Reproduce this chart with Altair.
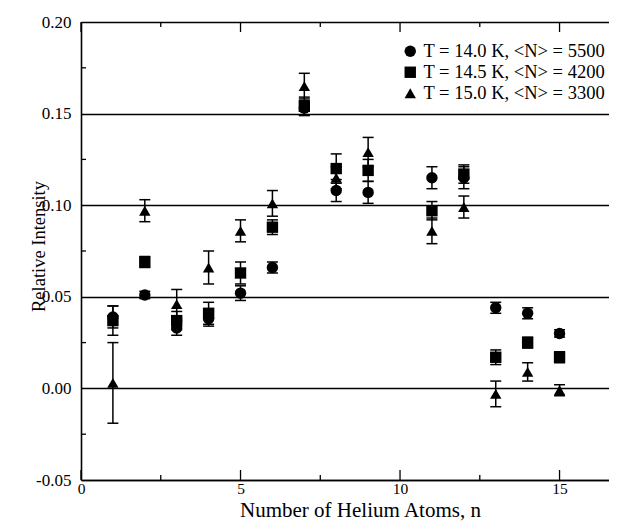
import altair as alt
import pandas as pd

# ---- data ----
n_atoms = [1, 2, 3, 4, 5, 6, 7, 8, 9, 11, 12, 13, 14, 15]
series_labels = ["T = 14.0 K, <N> = 5500", "T = 14.5 K, <N> = 4200", "T = 15.0 K, <N> = 3300"]
int_140 = [0.039, 0.051, 0.033, 0.038, 0.052, 0.066, 0.153, 0.108, 0.107, 0.115, 0.115, 0.044, 0.041, 0.030]
err_140 = [0.006, 0.002, 0.004, 0.004, 0.004, 0.003, 0.004, 0.006, 0.006, 0.006, 0.006, 0.003, 0.003, 0.002]
int_145 = [0.037, 0.069, 0.037, 0.041, 0.063, 0.088, 0.154, 0.120, 0.119, 0.097, 0.117, 0.017, 0.025, 0.017]
err_145 = [0.008, 0.003, 0.005, 0.006, 0.006, 0.004, 0.005, 0.008, 0.006, 0.005, 0.005, 0.004, 0.003, 0.003]
int_150 = [0.003, 0.097, 0.046, 0.066, 0.086, 0.101, 0.165, 0.115, 0.129, 0.086, 0.099, -0.003, 0.009, -0.001]
err_150 = [0.022, 0.006, 0.008, 0.009, 0.006, 0.007, 0.007, 0.006, 0.008, 0.007, 0.006, 0.007, 0.005, 0.003]

x_major_ticks = [0, 5, 10, 15]
x_minor_ticks = [2.5, 7.5, 12.5]
y_label_values = [-0.05, 0.0, 0.05, 0.10, 0.15, 0.20]
y_minor_ticks = [-0.025, 0.025, 0.075, 0.125, 0.175]

rows = []
for label, vals, errs in zip(series_labels, [int_140, int_145, int_150], [err_140, err_145, err_150]):
    for n, v, e in zip(n_atoms, vals, errs):
        rows.append({"n": n, "series": label, "value": v, "lo": v - e, "hi": v + e})
df = pd.DataFrame(rows)

W, H = 528, 458
FONT = "Times New Roman, Liberation Serif, serif"

x_scale = alt.Scale(domain=[0, 16.55], nice=False, zero=False)
y_scale = alt.Scale(domain=[-0.05, 0.2], nice=False, zero=False)

base = alt.Chart(df)

points = base.mark_point(filled=True, color="black", opacity=1, size=130).encode(
    x=alt.X(
        "n:Q",
        scale=x_scale,
        axis=alt.Axis(
            values=x_major_ticks,
            title="Number of Helium Atoms, n",
            grid=False,
            ticks=False,
            labelFlush=False,
            labelFontSize=15.5,
            labelPadding=1,
            titleFontSize=21,
            titleFontWeight="normal",
            titleX=279,
            titleY=36.5,
            titleBaseline="alphabetic",
        ),
    ),
    y=alt.Y(
        "value:Q",
        scale=y_scale,
        axis=alt.Axis(
            values=y_label_values,
            format=".2f",
            title="Relative Intensity",
            grid=True,
            gridColor="black",
            gridWidth=1.6,
            gridOpacity=1,
            ticks=False,
            labelFlush=False,
            labelFontSize=17,
            labelPadding=10,
            titleFontSize=18.5,
            titleFontWeight="normal",
            titleX=-33,
            titleY=224,
        ),
    ),
    shape=alt.Shape(
        "series:N",
        scale=alt.Scale(domain=series_labels, range=["circle", "square", "triangle-up"]),
        legend=alt.Legend(
            title=None,
            orient="none",
            legendX=320,
            legendY=20,
            labelFontSize=18.5,
            labelLimit=400,
            symbolSize=130,
            symbolFillColor="black",
            symbolStrokeColor="black",
            rowPadding=2,
            labelOffset=4,
        ),
    ),
)

err_rule = base.mark_rule(color="black", strokeWidth=1.5).encode(
    x="n:Q", y="lo:Q", y2="hi:Q",
)
cap_lo = base.mark_tick(orient="horizontal", color="black", size=11, thickness=1.5, opacity=1).encode(
    x="n:Q", y="lo:Q"
)
cap_hi = base.mark_tick(orient="horizontal", color="black", size=11, thickness=1.5, opacity=1).encode(
    x="n:Q", y="hi:Q"
)

xmaj = pd.DataFrame({"n": x_major_ticks})
xmin = pd.DataFrame({"n": x_minor_ticks})
ymin = pd.DataFrame({"value": y_minor_ticks})

xmaj_bottom = alt.Chart(xmaj).mark_rule(color="black", strokeWidth=1.3).encode(
    x="n:Q", y=alt.value(H), y2=alt.value(H - 10)
)
xmaj_top = alt.Chart(xmaj).mark_rule(color="black", strokeWidth=1.3).encode(
    x="n:Q", y=alt.value(0), y2=alt.value(10)
)
xmin_bottom = alt.Chart(xmin).mark_rule(color="black", strokeWidth=1.3).encode(
    x="n:Q", y=alt.value(H), y2=alt.value(H - 5)
)
xmin_top = alt.Chart(xmin).mark_rule(color="black", strokeWidth=1.3).encode(
    x="n:Q", y=alt.value(0), y2=alt.value(5)
)
ymin_left = alt.Chart(ymin).mark_rule(color="black", strokeWidth=1.3).encode(
    y="value:Q", x=alt.value(0), x2=alt.value(5)
)

chart = (
    alt.layer(points, err_rule, cap_lo, cap_hi, xmaj_bottom, xmaj_top, xmin_bottom, xmin_top, ymin_left)
    .properties(
        width=W,
        height=H,
        autosize=alt.AutoSizeParams(type="none"),
        padding={"left": 73, "top": 14, "right": 0, "bottom": 41},
        background="white",
    )
    .configure(
        font=FONT,
        locale=alt.Locale(
            number=alt.NumberLocale(
                decimal=".", thousands=",", grouping=[3], currency=["", ""], minus="-"
            )
        ),
    )
    .configure_view(strokeWidth=0)
    .configure_axis(
        domainColor="black",
        domainWidth=1.6,
        labelColor="black",
        titleColor="black",
        labelFont=FONT,
        titleFont=FONT,
    )
    .configure_legend(labelFont=FONT, labelColor="black")
)

chart.save("out.html", embed_options={"renderer": "svg", "actions": False})
